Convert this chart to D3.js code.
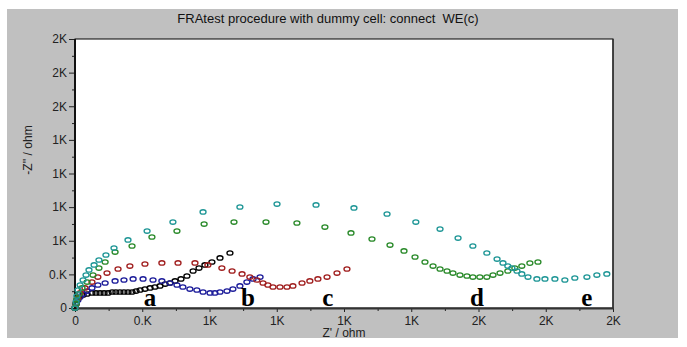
<!DOCTYPE html>
<html><head><meta charset="utf-8">
<script src="https://cdn.jsdelivr.net/npm/d3@7/dist/d3.min.js"></script>
<style>body{margin:0;background:#fff;}svg{display:block;}</style>
</head><body>
<svg id="c" width="687" height="347"></svg>
<script>
// ---- data ----
const title = "FRAtest procedure with dummy cell: connect  WE(c)";
const xLabel = "Z' / ohm";
const yLabel = "-Z'' / ohm";
const tickValues = [0,250,500,750,1000,1250,1500,1750,2000];
const xTickLabels = ["0","0.K","1K","1K","1K","1K","2K","2K","2K"];
const yTickLabels = ["0","0.K","1K","1K","1K","1K","2K","2K","2K"];
const minorTicks = [125,375,625,875,1125,1375,1625,1875];

const seriesNames = ["a","b","c","d","e"];
const seriesColors = ["#000000","#1c1c9a","#a01e1e","#2a8a2a","#1e9696"];

const aX = [0,4,7,15,30,45,63,78,93,108,123,138,152,167,182,197,212,227,242,260,279,297,316,335,353,372,394,416,439,461,483,509,539,576];
const aY = [0,30,59,82,97,104,112,112,112,112,112,119,119,119,119,119,119,126,134,141,149,156,164,178,186,201,216,238,275,297,320,342,372,409];

const bX = [0,4,11,19,30,45,63,85,112,149,182,216,253,290,323,353,379,401,427,453,476,502,520,539,565,587,613,639,662,688];
const bY = [0,30,59,82,104,126,149,171,186,201,208,216,216,208,201,186,171,156,141,134,119,112,112,119,126,141,164,193,216,230];

const cX = [0,4,11,19,37,63,85,119,160,204,260,323,383,446,494,546,584,621,650,676,699,717,736,762,788,810,844,873,903,937,974,1011];
const cY = [0,37,74,112,149,193,230,260,290,312,327,335,335,335,320,297,275,253,230,208,186,171,156,156,156,164,186,201,216,230,260,290];

const dX = [0,4,7,15,26,45,67,89,112,149,212,286,379,480,591,710,825,929,1026,1104,1171,1223,1264,1301,1331,1357,1383,1405,1431,1457,1479,1505,1531,1554,1580,1609,1635,1661,1691,1721];
const dY = [0,30,67,104,149,193,245,297,342,416,461,528,572,624,639,639,632,602,558,513,468,424,379,342,312,290,275,260,245,238,230,230,230,245,260,275,297,312,334,342];

const eX = [0,4,7,11,19,30,41,52,71,89,115,145,197,268,364,476,613,751,896,1037,1160,1267,1357,1424,1479,1531,1569,1591,1609,1624,1643,1661,1684,1717,1747,1784,1821,1858,1903,1940,1977];
const eY = [0,45,89,134,171,208,245,283,320,357,394,446,506,572,639,714,751,773,766,744,699,639,587,520,461,409,364,335,312,297,275,253,230,216,216,216,208,223,230,245,253];

const labelX = [279,643,940,1494,1903];

// ---- drawing ----
const svg = d3.select("#c");
const L=75, R=613, T=39, B=308;
const x = d3.scaleLinear().domain([0,2000]).range([L,R]);
const y = d3.scaleLinear().domain([0,2000]).range([B,T]);

svg.append("rect").attr("x",7).attr("y",9).attr("width",671).attr("height",329).attr("fill","#c0c0c0");
svg.append("rect").attr("x",L).attr("y",T).attr("width",R-L).attr("height",B-T).attr("fill","#fff").attr("stroke","#000").attr("stroke-width",1);

svg.append("text").attr("x",328).attr("y",23).attr("text-anchor","middle")
  .style("white-space","pre")
  .attr("font-family","Liberation Sans, Arial, sans-serif").attr("font-size",13).attr("fill","#111").text(title);

const font = "Liberation Sans, Arial, sans-serif";
const gx = svg.append("g").attr("transform",`translate(0,${B})`)
  .call(d3.axisBottom(x).tickValues(tickValues).tickFormat((d,i)=>xTickLabels[i]).tickSize(4).tickPadding(4));
const gxm = svg.append("g").attr("transform",`translate(0,${B})`)
  .call(d3.axisBottom(x).tickValues(minorTicks).tickFormat("").tickSize(3));
const gy = svg.append("g").attr("transform",`translate(${L},0)`)
  .call(d3.axisLeft(y).tickValues(tickValues).tickFormat((d,i)=>yTickLabels[i]).tickSize(6).tickPadding(2));
const gym = svg.append("g").attr("transform",`translate(${L},0)`)
  .call(d3.axisLeft(y).tickValues(minorTicks).tickFormat("").tickSize(3));
[gx,gxm,gy,gym].forEach(g=>{
  g.select(".domain").remove();
  g.selectAll("line").attr("stroke","#222");
  g.selectAll("text").attr("font-family",font).attr("font-size",12).attr("fill","#222");
});

svg.append("line").attr("x1",L).attr("x2",R+1).attr("y1",B+0.5).attr("y2",B+0.5).attr("stroke","#333").attr("stroke-width",2);
svg.append("line").attr("x1",L).attr("x2",L).attr("y1",T).attr("y2",B+1).attr("stroke","#111").attr("stroke-width",2);
svg.append("line").attr("x1",R).attr("x2",R).attr("y1",T).attr("y2",B).attr("stroke","#333").attr("stroke-width",1.5);

svg.append("text").attr("x",344).attr("y",337).attr("text-anchor","middle")
  .attr("font-family",font).attr("font-size",12).attr("fill","#222").text(xLabel);
svg.append("text").attr("transform","translate(32,150) rotate(-90)").attr("text-anchor","middle")
  .attr("font-family",font).attr("font-size",12).attr("fill","#222").text(yLabel);

const series = [[aX,aY],[bX,bY],[cX,cY],[dX,dY],[eX,eY]];
series.forEach((s,k)=>{
  const pts = s[0].map((v,i)=>[v,s[1][i]]);
  svg.append("g").selectAll("ellipse").data(pts).join("ellipse")
    .attr("cx",d=>x(d[0])).attr("cy",d=>y(d[1]))
    .attr("rx",3).attr("ry",2.2)
    .attr("fill","none").attr("stroke",seriesColors[k]).attr("stroke-width",1.3);
});

svg.append("g").selectAll("text").data(seriesNames).join("text")
  .attr("x",(d,i)=>x(labelX[i])).attr("y",B-2)
  .attr("text-anchor","middle").attr("font-family","Liberation Serif, Times New Roman, serif")
  .attr("font-weight","bold").attr("font-size",25).attr("fill","#000").text(d=>d);
</script>
</body></html>
